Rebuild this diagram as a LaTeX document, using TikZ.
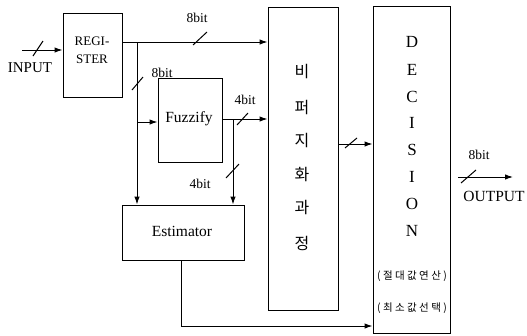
\documentclass[tikz,border=0pt]{standalone}
\usepackage{fontspec}
\setmainfont{Liberation Serif}
\newfontfamily\kr{Noto Sans CJK KR}
\usetikzlibrary{arrows.meta}
\newcommand{\gapkr}{\hspace{2.4pt}}
\begin{document}
\begin{tikzpicture}[x=1pt,y=-1pt,
  blk/.style={draw,line width=1pt,inner sep=0pt,rectangle},
  wire/.style={line width=1pt},
  arr/.style={wire,-{Latex[length=8pt,width=5.5pt]}},
  busmark/.style={line width=1pt},
  lbl/.style={font=\fontsize{13.5}{14}\selectfont,inner sep=0pt},
  tag/.style={font=\fontsize{15.5}{16}\selectfont,inner sep=0pt},
  vlet/.style={font=\fontsize{17}{17}\selectfont,inner sep=0pt},
  vkr/.style={font=\kr\fontsize{16}{16}\selectfont,inner sep=0pt},
  skr/.style={font=\kr\fontsize{10.5}{11}\selectfont,inner sep=0pt}]
\useasboundingbox (0,0) rectangle (527,335);

% blocks
\node[blk,minimum width=59pt,minimum height=84pt] (reg) at (92.5,55) {};
\node[font=\fontsize{13}{13}\selectfont] at (92,41) {REGI-};
\node[font=\fontsize{13}{13}\selectfont] at (92,59) {STER};
\node[blk,minimum width=64pt,minimum height=84pt] (fuz) at (190,120) {};
\node[tag] at (189,119) {Fuzzify};
\node[blk,minimum width=122pt,minimum height=55pt] (est) at (183,232.5) {};
\node[tag] at (182,231) {Estimator};
\node[blk,minimum width=70pt,minimum height=303pt] (defz) at (303,158.5) {};
\node[blk,minimum width=77pt,minimum height=327pt] (dec) at (411.5,169.5) {};

% vertical texts
\foreach \c/\y in {비/72,퍼/108,지/141,화/175,과/208,정/243}
  \node[vkr] at (302,\y) {\c};
\foreach \c/\y in {D/42,E/70,C/97,I/123,S/150,I/177,O/204,N/231}
  \node[vlet] at (412,\y) {\c};
\node[skr] at (412,276) {(\gapkr 절\gapkr 대\gapkr 값\gapkr 연\gapkr 산\gapkr )};
\node[skr] at (412,308) {(\gapkr 최\gapkr 소\gapkr 값\gapkr 선\gapkr 택\gapkr )};

% input
\coordinate (inS) at (22,50);
\draw[arr] (inS) -- (reg.west |- inS);
\draw[busmark] (33,56) -- (43,41);
\node[tag,font=\fontsize{15}{16}\selectfont] at (30,68) {INPUT};

% register output bus
\coordinate (r1) at (122,42);
\coordinate (j1) at (137,42);
\draw[arr] (r1) -- (defz.west |- r1);
\draw[busmark] (193,45) -- (207,32);
\node[lbl] at (197,18) {8bit};

% branch down to estimator
\coordinate (j2) at (137,122);
\draw[arr] (j1) -- (j1 |- est.north);
\draw[busmark] (132,90) -- (143,77);
\node[lbl] at (162,73) {8bit};
\draw[arr] (j2) -- (fuz.west |- j2);

% fuzzify output
\coordinate (f1) at (222,119);
\coordinate (j3) at (233,119);
\draw[arr] (f1) -- (defz.west |- f1);
\draw[busmark] (237,125) -- (248,113);
\node[lbl] at (245,100) {4bit};
\draw[arr] (j3) -- (j3 |- est.north);
\draw[busmark] (226,178) -- (239,164);
\node[lbl] at (200,184) {4bit};

% defuzz to decision
\coordinate (d1) at (338,144);
\draw[arr] (d1) -- (dec.west |- d1);
\draw[busmark] (345,148) -- (357,138);

% estimator to decision
\coordinate (e1) at (181,260);
\coordinate (e2) at (181,326);
\draw[arr] (e1) -- (e2) -- (dec.west |- e2);

% output
\coordinate (o1) at (458,177);
\coordinate (o2) at (513,177);
\draw[arr] (o1) -- (o2);
\draw[busmark] (461,183) -- (476,170);
\node[lbl] at (479,155) {8bit};
\node[tag] at (494,196) {OUTPUT};
\end{tikzpicture}
\end{document}
